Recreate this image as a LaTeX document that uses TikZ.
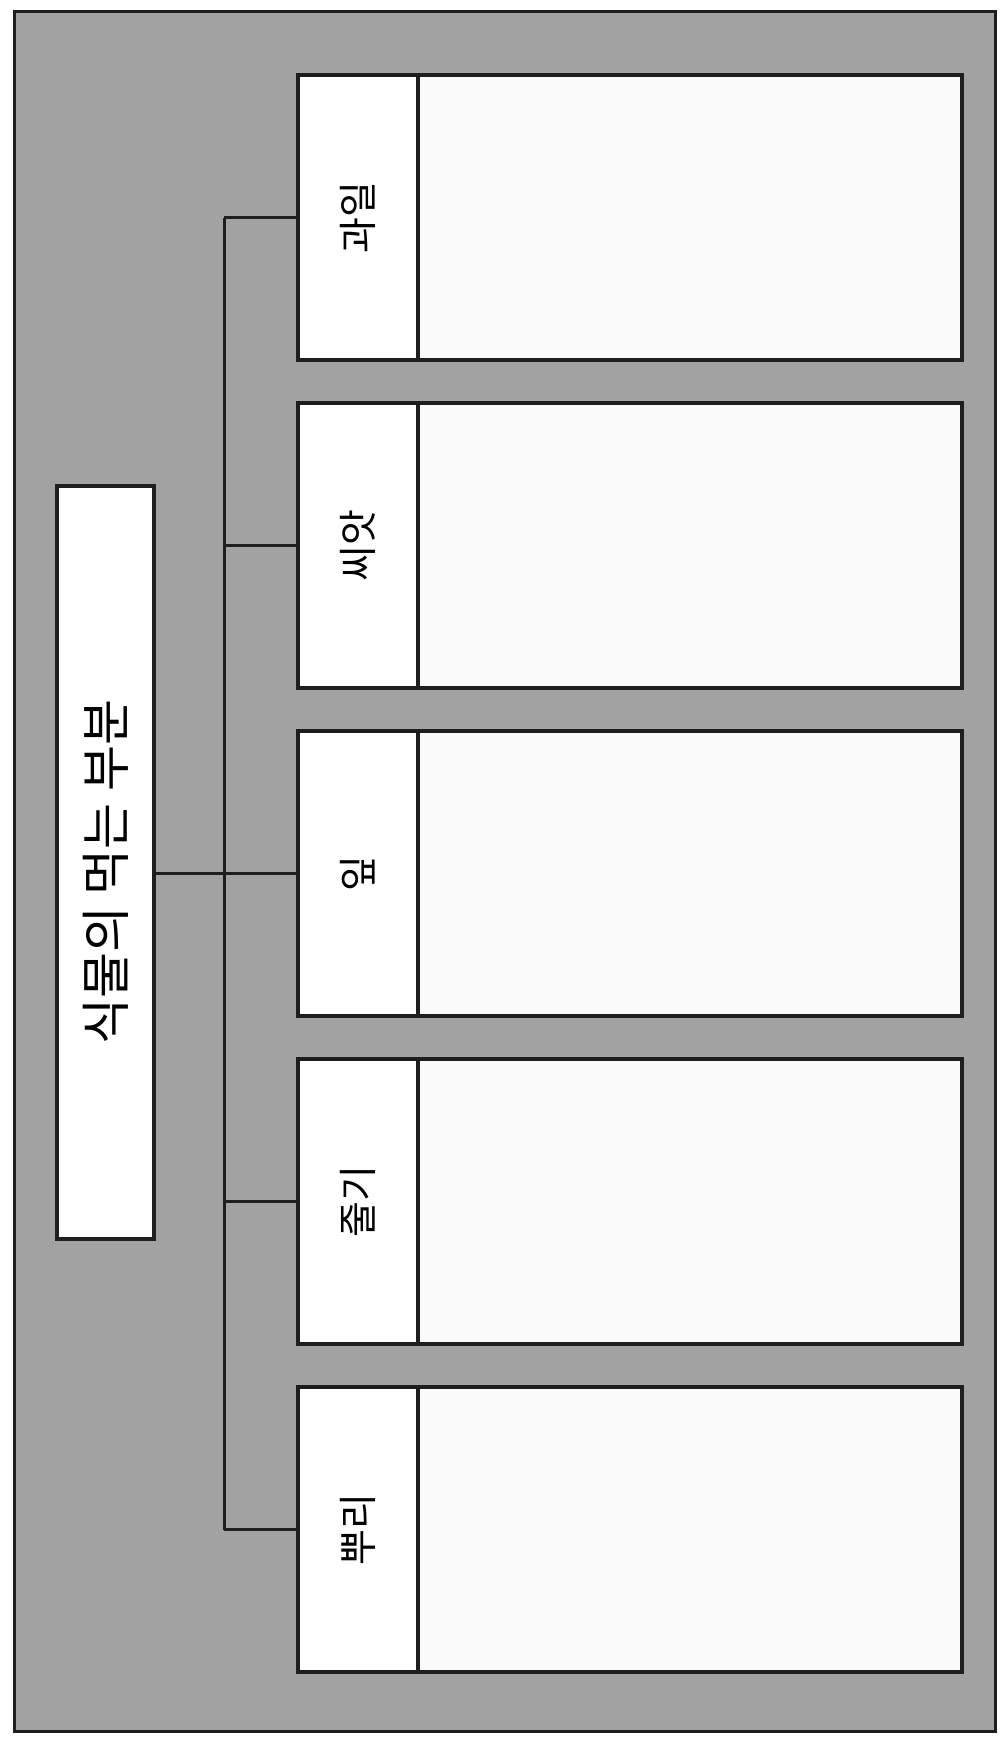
\documentclass[tikz,border=0pt]{standalone}
\usepackage{fontspec}
\newfontfamily\kofont{Noto Sans CJK KR}
\definecolor{bggray}{HTML}{A2A2A2}
\definecolor{boxwhite}{HTML}{FAFAFA}
\definecolor{linedark}{HTML}{1E1E1E}
\begin{document}
\begin{tikzpicture}[x=1pt,y=-1pt,
  frame/.style={draw=linedark,line width=3pt,fill=bggray},
  titlebox/.style={draw=linedark,line width=4pt,fill=white,inner sep=0pt,outer sep=0pt,
    minimum width=97pt,minimum height=753pt,font=\kofont\fontsize{50}{54}\selectfont},
  labelbox/.style={draw=linedark,line width=4pt,fill=white,inner sep=0pt,outer sep=0pt,
    minimum width=120pt,minimum height=285pt,font=\kofont\fontsize{39}{44}\selectfont},
  contentbox/.style={draw=linedark,line width=4pt,fill=boxwhite,inner sep=0pt,outer sep=0pt,
    minimum width=544pt,minimum height=285pt},
  conn/.style={draw=linedark,line width=3pt}]
\useasboundingbox (0,0) rectangle (1005,1738);
\path[frame] (14,11) rectangle (995,1731);
% title
\node[titlebox] (title) at (105.5,862) {\rotatebox{90}{식물의 먹는 부분\hspace*{20pt}}};
% categories
\foreach \nm/\txt/\cy in {fruit/과일/217.5, seed/씨앗/545.5, leaf/잎/873.5, stem/줄기/1201.5, root/뿌리/1529.5}{
  \node[labelbox] (\nm) at (358,\cy) {\rotatebox{90}{\txt}};
  \node[contentbox,anchor=west] (\nm c) at (\nm.east) {};
}
% connectors
\coordinate (trunktop) at (224,0 |- fruit.west);
\coordinate (trunkbot) at (224,0 |- root.west);
\draw[conn] (title.east |- leaf.west) -- (leaf.west);
\draw[conn] (trunktop) -- (trunkbot);
\foreach \nm in {fruit,seed,stem,root}{
  \draw[conn] (224,0 |- \nm.west) -- (\nm.west);
}
\end{tikzpicture}
\end{document}
